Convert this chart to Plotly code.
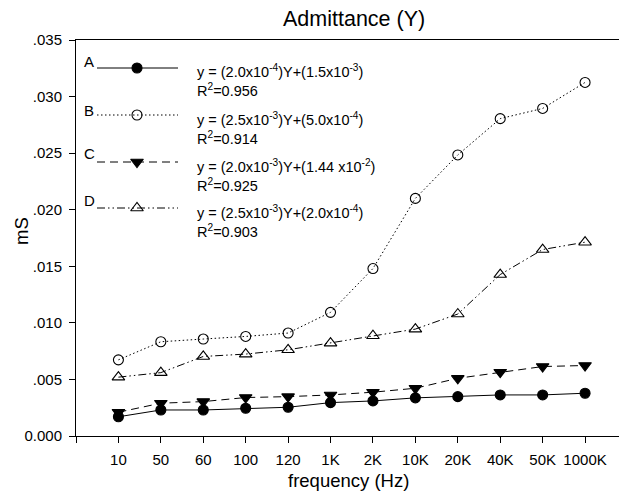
import plotly.graph_objects as go

categories = ["10", "50", "60", "100", "120", "1K", "2K", "10K", "20K", "40K", "50K", "1000K"]
A = [0.0017, 0.0023, 0.0023, 0.00245, 0.00254, 0.00295, 0.0031, 0.00337, 0.00348, 0.00363, 0.00363, 0.00378]
B = [0.00673, 0.00833, 0.00857, 0.0088, 0.0091, 0.01093, 0.0148, 0.0210, 0.02484, 0.02805, 0.02895, 0.03125]
C = [0.0021, 0.0029, 0.00304, 0.0034, 0.00348, 0.00363, 0.00387, 0.00422, 0.0051, 0.00564, 0.00614, 0.00623]
D = [0.0052, 0.0056, 0.00703, 0.00724, 0.00762, 0.00821, 0.00886, 0.00945, 0.01078, 0.01427, 0.01648, 0.01713]
y_ticks = [0.0, 0.005, 0.010, 0.015, 0.020, 0.025, 0.030, 0.035]
y_tick_text = ["0.000", ".005", ".010", ".015", ".020", ".025", ".030", ".035"]

series = [
    ("A", A, "solid", "circle", "y = (2.0x10<sup>-4</sup>)Y+(1.5x10<sup>-3</sup>)", "R<sup>2</sup>=0.956"),
    ("B", B, "1.5px,2.5px", "circle-open", "y = (2.5x10<sup>-3</sup>)Y+(5.0x10<sup>-4</sup>)", "R<sup>2</sup>=0.914"),
    ("C", C, "8px,5px", "triangle-down", "y = (2.0x10<sup>-3</sup>)Y+(1.44 x10<sup>-2</sup>)", "R<sup>2</sup>=0.925"),
    ("D", D, "8px,3px,1.5px,3px,1.5px,3px", "triangle-up-open", "y = (2.5x10<sup>-3</sup>)Y+(2.0x10<sup>-4</sup>)", "R<sup>2</sup>=0.903"),
]

FONT = "Liberation Sans, Arial, sans-serif"
xs = list(range(len(categories)))

# plot area in pixels (for converting legend placement to axis fractions)
L, R_, T, Bt = 76, 619, 40, 436
def fx(px):
    return (px - L) / (R_ - L)
def fy(py):
    return (Bt - py) / (Bt - T)

def msize(sym):
    return 10 if "circle" in sym else 11

fig = go.Figure()
for name, vals, dash, sym, eq, r2 in series:
    fig.add_trace(go.Scatter(
        x=xs, y=vals, mode="lines+markers", name=name, showlegend=False,
        line=dict(color="black", width=1, dash=dash),
        marker=dict(symbol=sym, size=msize(sym), color="black",
                    line=dict(color="black", width=1.1)),
    ))

# legend block drawn on an overlay axis (0..1)
line_px = [68, 115, 162, 208]
label_px = [61.5, 110, 153, 200.5]
eq_px = [81, 128, 175, 222]
for i, (name, vals, dash, sym, eq, r2) in enumerate(series):
    ly = fy(line_px[i])
    fig.add_trace(go.Scatter(
        x=[fx(97), fx(137), fx(178)], y=[ly] * 3, xaxis="x2", yaxis="y2",
        mode="lines", showlegend=False, hoverinfo="skip",
        line=dict(color="black", width=1, dash=dash),
    ))
    fig.add_trace(go.Scatter(
        x=[fx(137)], y=[ly], xaxis="x2", yaxis="y2",
        mode="markers", showlegend=False, hoverinfo="skip",
        marker=dict(symbol=sym, size=msize(sym), color="black",
                    line=dict(color="black", width=1.1)),
    ))
    fig.add_annotation(x=fx(82), y=fy(label_px[i]), xref="paper", yref="paper", text=name,
                       showarrow=False, xanchor="left", yanchor="middle",
                       font=dict(family=FONT, size=15, color="black"))
    fig.add_annotation(x=fx(195), y=fy(eq_px[i]), xref="paper", yref="paper",
                       text=eq + "<br>" + r2, align="left",
                       showarrow=False, xanchor="left", yanchor="middle",
                       font=dict(family=FONT, size=14.5, color="black"))

# axis titles and chart title as annotations
fig.add_annotation(x=fx(21), y=fy(231), xref="paper", yref="paper", text="mS", textangle=-90,
                   showarrow=False, xanchor="center", yanchor="middle",
                   font=dict(family=FONT, size=18.5, color="black"))
fig.add_annotation(x=fx(348), y=fy(481), xref="paper", yref="paper", text="frequency (Hz)",
                   showarrow=False, xanchor="center", yanchor="middle",
                   font=dict(family=FONT, size=18.5, color="black"))
fig.add_annotation(x=fx(353.5), y=fy(19), xref="paper", yref="paper", text="Admittance (Y)",
                   showarrow=False, xanchor="center", yanchor="middle",
                   font=dict(family=FONT, size=21.5, color="black"))

fig.update_layout(
    width=619, height=497,
    margin=dict(l=L, r=619 - R_, t=T, b=497 - Bt),
    paper_bgcolor="white", plot_bgcolor="white",
    font=dict(family=FONT, size=15, color="black"),
    xaxis=dict(
        range=[-1, 11.8], tickmode="array", tickvals=[-1] + xs, ticktext=[""] + categories,
        ticks="outside", ticklen=6, tickwidth=1, tickcolor="black",
        showline=True, linecolor="black", linewidth=1, mirror=True,
        showgrid=False, zeroline=False, automargin=False,
        tickfont=dict(family=FONT, size=15), ticklabelstandoff=4,
    ),
    yaxis=dict(
        range=[0, 0.035], tickmode="array", tickvals=y_ticks, ticktext=y_tick_text,
        ticks="outside", ticklen=6, tickwidth=1, tickcolor="black",
        showline=True, linecolor="black", linewidth=1,
        showgrid=False, zeroline=False, automargin=False,
        tickfont=dict(family=FONT, size=15), ticklabelstandoff=4,
    ),
    xaxis2=dict(overlaying="x", range=[0, 1], visible=False, anchor="y2"),
    yaxis2=dict(overlaying="y", range=[0, 1], visible=False, anchor="x2"),
)

fig.write_html("out.html")
